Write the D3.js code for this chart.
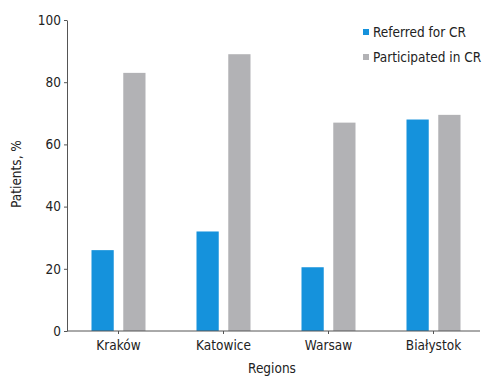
<!DOCTYPE html>
<meta charset="utf-8">
<style>
  body { margin: 0; background: #fff; }
  text { font-family: "Liberation Sans Narrow", "DejaVu Sans Condensed", "Arial Narrow", sans-serif; fill: #222; }
  .axis path, .axis line { stroke: #555; }
</style>
<body>
<div id="chart"></div>
<script src="https://d3js.org/d3.v7.min.js"></script>
<script>
  const regions = ["Kraków", "Katowice", "Warsaw", "Białystok"];
  const series = ["Referred for CR", "Participated in CR"];
  const referred = [26, 32, 20.5, 68];
  const participated = [83, 89, 67, 69.5];
  const yTicks = [0, 20, 40, 60, 80, 100];
  const colors = ["#1592dc", "#b2b2b5"];

  const width = 489, height = 379;
  const plotLeft = 67, plotTop = 20, plotBottom = 331, plotRight = 480;
  const fs = 13.5;

  const svg = d3.select("#chart").append("svg")
    .attr("width", width)
    .attr("height", height);

  const x0 = d3.scaleBand().domain(regions).range([66, 486]);
  const x1 = d3.scaleBand().domain(series).range([25.5, 79.5]).paddingInner(0.3);
  const y = d3.scaleLinear().domain([0, 100]).range([plotBottom, plotTop]);

  // bars
  const rows = regions.map((r, i) => ({region: r, values: [referred[i], participated[i]]}));

  const group = svg.selectAll(".group")
    .data(rows)
    .enter().append("g")
    .attr("class", "group")
    .attr("transform", (d) => `translate(${x0(d.region)},0)`);

  group.selectAll("rect")
    .data((d) => d.values.map((v, j) => ({key: series[j], value: v, j: j})))
    .enter().append("rect")
    .attr("x", (d) => x1(d.key))
    .attr("width", x1.bandwidth())
    .attr("y", (d) => y(d.value))
    .attr("height", (d) => y(0) - y(d.value))
    .attr("fill", (d) => colors[d.j]);

  // y axis
  const yAxis = svg.append("g")
    .attr("class", "axis")
    .attr("transform", `translate(${plotLeft},0)`)
    .call(d3.axisLeft(y).tickValues(yTicks).tickSize(3).tickSizeOuter(0));
  yAxis.selectAll("text").attr("font-size", fs).attr("x", -6);

  // x axis
  const xAxis = svg.append("g")
    .attr("class", "axis")
    .attr("transform", `translate(0,${plotBottom})`)
    .call(d3.axisBottom(x0).tickSize(3).tickSizeOuter(0));
  xAxis.select(".domain").remove();
  xAxis.selectAll("text").attr("font-size", fs).attr("dy", "0.95em");
  svg.append("line")
    .attr("x1", plotLeft).attr("x2", plotRight)
    .attr("y1", plotBottom).attr("y2", plotBottom)
    .attr("stroke", "#555");

  // axis titles
  svg.append("text")
    .attr("x", 272).attr("y", 373)
    .attr("text-anchor", "middle")
    .attr("font-size", fs)
    .text("Regions");

  svg.append("text")
    .attr("transform", "translate(21,174) rotate(-90)")
    .attr("text-anchor", "middle")
    .attr("font-size", fs)
    .text("Patients, %");

  // legend
  const legend = svg.selectAll(".legend")
    .data(series)
    .enter().append("g")
    .attr("class", "legend")
    .attr("transform", (d, i) => `translate(363,${27 + i * 25})`);

  legend.append("rect")
    .attr("width", 6).attr("height", 6)
    .attr("y", 2)
    .attr("fill", (d, i) => colors[i]);

  legend.append("text")
    .attr("x", 10).attr("y", 10)
    .attr("font-size", fs)
    .text((d) => d);
</script>
</body>
